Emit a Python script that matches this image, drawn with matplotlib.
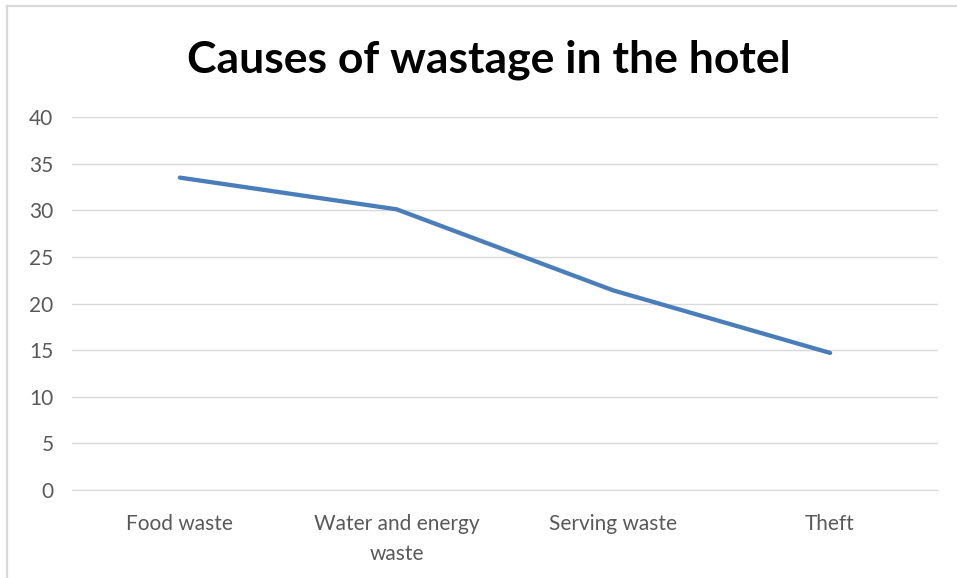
import matplotlib.pyplot as plt
from matplotlib.lines import Line2D

categories = ['Food waste', 'Water and energy\nwaste', 'Serving waste', 'Theft']
values = [33.5, 30.1, 21.4, 14.7]
y_ticks = [0, 5, 10, 15, 20, 25, 30, 35, 40]

W, H = 957, 578
fig = plt.figure(figsize=(W / 100, H / 100), dpi=100)
fig.patch.set_facecolor('white')

# chart frame (top and left edges only)
fig.add_artist(Line2D([7.5 / W, 7.5 / W], [0, 1 - 5.5 / H], transform=fig.transFigure,
                      color='#d9d9d9', lw=1.6))
fig.add_artist(Line2D([7.5 / W, 1], [1 - 5.5 / H, 1 - 5.5 / H], transform=fig.transFigure,
                      color='#d9d9d9', lw=1.6))

ax = fig.add_axes([71.5 / W, (H - 490) / H, 867 / W, 373 / H])
x = range(len(categories))
ax.plot(x, values, color='#4a7ebb', lw=3.1, solid_capstyle='round', solid_joinstyle='round')

ax.set_xlim(-0.5, len(categories) - 0.5)
ax.set_ylim(0, 40)
ax.set_yticks(y_ticks)
ax.set_xticks(list(x))
ax.set_xticklabels(categories, fontsize=15, color='#595959', family='Lato', linespacing=1.65)
ax.set_yticklabels([str(t) for t in y_ticks], fontsize=15, color='#595959', family='Lato')
ax.tick_params(axis='both', length=0)
ax.tick_params(axis='y', pad=13)
ax.tick_params(axis='x', pad=17)
ax.grid(axis='y', color='#d9d9d9', lw=1)
ax.set_axisbelow(True)
for side in ['top', 'right', 'left']:
    ax.spines[side].set_visible(False)
ax.spines['bottom'].set_color('#d9d9d9')

fig.text(489 / W, 1 - 60 / H, 'Causes of wastage in the hotel', ha='center', va='center',
         fontsize=32, fontweight='bold', family='Lato', color='black')

fig.savefig('out.png', dpi=100)
